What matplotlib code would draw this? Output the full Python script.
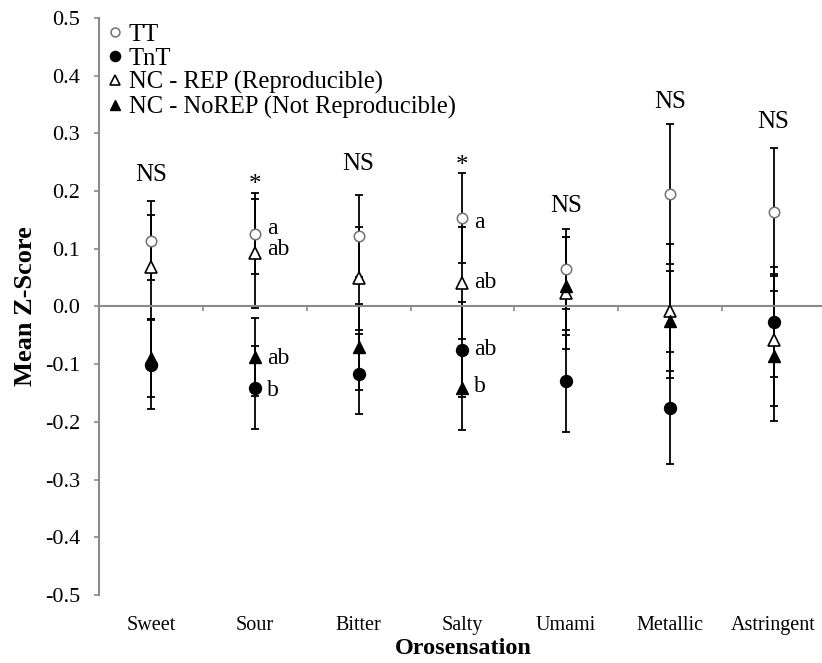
import matplotlib.pyplot as plt
import numpy as np

plt.rcParams['font.family'] = ['Liberation Serif', 'DejaVu Serif']
plt.rcParams['axes.unicode_minus'] = False

categories = ['Sweet', 'Sour', 'Bitter', 'Salty', 'Umami', 'Metallic', 'Astringent']

# means and error bars
tt_mean = [0.114, 0.126, 0.122, 0.153, 0.065, 0.195, 0.164]
tt_err = [0.068, 0.070, 0.071, 0.078, 0.069, 0.122, 0.111]
tnt_mean = [-0.101, -0.141, -0.117, -0.075, -0.129, -0.176, -0.027]
tnt_err = [0.077, 0.072, 0.069, 0.082, 0.089, 0.097, 0.095]
rep_mean = [0.069, 0.092, 0.049, 0.041, 0.023, -0.008, -0.058]
rep_err = [0.090, 0.094, 0.089, 0.097, 0.097, 0.116, 0.115]
norep_mean = [-0.089, -0.088, -0.070, -0.141, 0.036, -0.025, -0.086]
norep_err = [0.068, 0.068, 0.075, 0.073, 0.085, 0.087, 0.112]

# significance marks above each orosensation
signif = ['NS', '*', 'NS', '*', 'NS', 'NS', 'NS']
signif_y = [0.2175, 0.200, 0.237, 0.233, 0.164, 0.344, 0.309]

# letters for post-hoc groups
letter_cat = [1, 1, 1, 1, 3, 3, 3, 3]
letter_y = [0.126, 0.089, -0.100, -0.156, 0.136, 0.032, -0.084, -0.148]
letter_txt = ['a', 'ab', 'ab', 'b', 'a', 'ab', 'ab', 'b']

x = np.arange(len(categories))
gray = '#8a8a8a'

fig = plt.figure(figsize=(8.22, 6.63), dpi=100)
ax = fig.add_axes([0.1208, 0.1026, 0.8834, 0.8703])

ebkw = dict(fmt='none', ecolor='black', elinewidth=1.3, capsize=2.9, capthick=1.3, zorder=2)
for m, e in [(tt_mean, tt_err), (rep_mean, rep_err), (norep_mean, norep_err), (tnt_mean, tnt_err)]:
    ax.errorbar(x, m, yerr=e, **ebkw)

ax.plot(x, tt_mean, 'o', ms=7.5, mfc='white', mec='#707070', mew=1.1, ls='none', zorder=3, label='TT')
ax.plot(x, tnt_mean, 'o', ms=8.6, mfc='black', mec='black', ls='none', zorder=3, label='TnT')
ax.plot(x, rep_mean, '^', ms=8.0, mfc='white', mec='black', mew=1.2, ls='none', zorder=3,
        label='NC - REP (Reproducible)')
ax.plot(x, norep_mean, '^', ms=8.0, mfc='black', mec='black', ls='none', zorder=3,
        label='NC - NoREP (Not Reproducible)')

for i, s in enumerate(signif):
    ax.text(x[i], signif_y[i], s, ha='center', va='baseline', fontsize=18)

for c, y, t in zip(letter_cat, letter_y, letter_txt):
    ax.text(x[c] + 0.115, y, t, ha='left', va='baseline', fontsize=17)

ax.set_xlim(-0.5, 6.5)
ax.set_ylim(-0.5, 0.5)
yt = np.round(np.arange(-0.5, 0.51, 0.1), 1) + 0.0
ax.set_yticks(yt, ['%.1f' % v if abs(v) > 1e-9 else '0.0' for v in yt])
ax.tick_params(axis='y', direction='out', length=3.6, width=1.2, color=gray, pad=10.3, labelsize=16)

ax.spines['top'].set_visible(False)
ax.spines['right'].set_visible(False)
ax.spines['left'].set_color(gray)
ax.spines['left'].set_linewidth(1.5)
ax.spines['bottom'].set_position(('data', 0))
ax.spines['bottom'].set_color(gray)
ax.spines['bottom'].set_linewidth(1.5)
ax.set_xticks(x, [''] * len(x))
ax.set_xticks(np.arange(0.5, 7, 1), minor=True)
ax.tick_params(axis='x', which='major', length=0)
ax.tick_params(axis='x', which='minor', direction='out', length=3.5, width=1.2, color=gray)

sec = ax.secondary_xaxis('bottom')
sec.set_xticks(x, categories)
sec.tick_params(length=0, pad=15, labelsize=14.5)
sec.spines['bottom'].set_visible(False)

ax.set_ylabel('Mean Z-Score', fontsize=19, fontweight='bold')
ax.yaxis.set_label_coords(-0.086, 0.5)
ax.set_xlabel('Orosensation', fontsize=17.5, fontweight='bold', va='center')
ax.xaxis.set_label_coords(0.501, -0.0936)

ax.legend(loc='upper left', bbox_to_anchor=(0.012, 0.99), frameon=False, fontsize=17.7,
          handlelength=0.55, handletextpad=0.3, labelspacing=0.06, borderpad=0, borderaxespad=0,
          markerscale=0.85)

fig.savefig('out.png', dpi=100)
